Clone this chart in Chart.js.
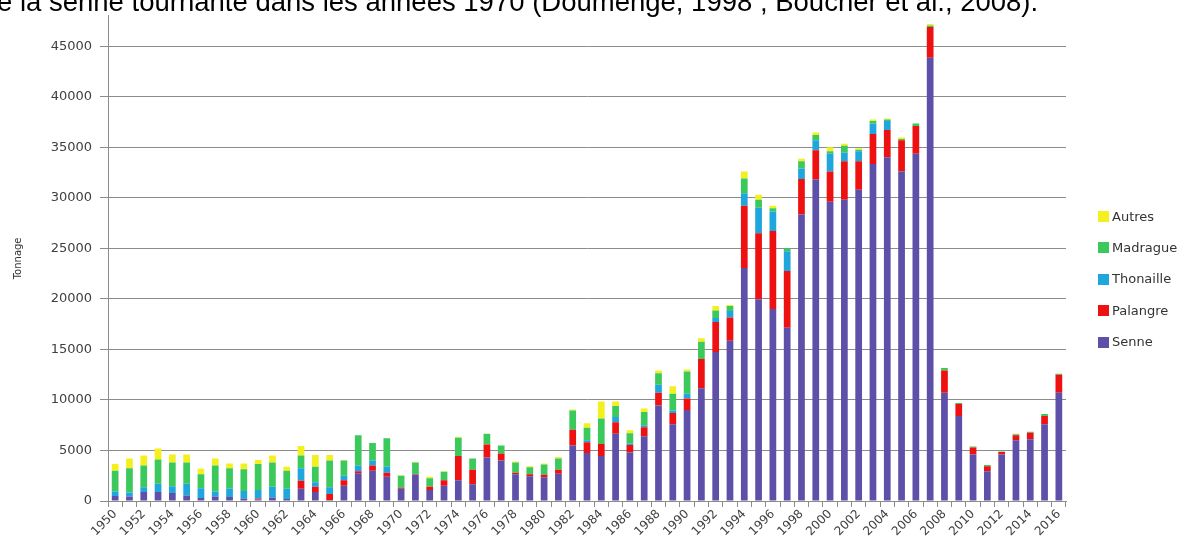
<!DOCTYPE html>
<html><head><meta charset="utf-8">
<script src="https://cdn.jsdelivr.net/npm/chart.js@4.4.1/dist/chart.umd.min.js"></script>
<style>
html,body{margin:0;padding:0;background:#fff;overflow:hidden}
#wrap{position:relative;width:1184px;height:550px;overflow:hidden}
#c{position:absolute;left:0;top:0}
#cap{position:absolute;left:-3px;top:-13.5px;font-family:"Liberation Sans",Arial,sans-serif;font-size:27.5px;line-height:30px;color:#000;white-space:nowrap}
.li{position:absolute;left:1098px;display:flex;align-items:center;font-family:"DejaVu Sans",sans-serif;font-size:13px;line-height:16px;color:#333;white-space:nowrap}
.sw{width:11px;height:11px;margin-right:3px;flex:none}
</style></head>
<body>
<div id="wrap">
<canvas id="c" width="1184" height="550"></canvas>
<div id="cap">e la senne tournante dans les années 1970 (Doumenge, 1998 ; Boucher et al., 2008).</div>
</div>
<script>
const years = ['1950','1951','1952','1953','1954','1955','1956','1957','1958','1959',
 '1960','1961','1962','1963','1964','1965','1966','1967','1968','1969',
 '1970','1971','1972','1973','1974','1975','1976','1977','1978','1979',
 '1980','1981','1982','1983','1984','1985','1986','1987','1988','1989',
 '1990','1991','1992','1993','1994','1995','1996','1997','1998','1999',
 '2000','2001','2002','2003','2004','2005','2006','2007','2008','2009',
 '2010','2011','2012','2013','2014','2015','2016'];
const senne = [500,450,900,900,800,550,300,450,400,250,
 150,350,200,1200,900,100,1500,2750,3000,2400,
 1200,2600,1100,1500,2050,1650,4300,4000,2650,2450,
 2350,2700,5500,4750,4450,6650,4800,6400,9450,7600,
 9000,11150,14750,15850,23050,19950,19000,17150,28350,31800,
 29600,29800,30800,33350,34000,32600,34350,43850,10700,8400,
 4600,2950,4600,6000,6100,7600,10700];
const palangre = [0,0,0,0,0,0,0,0,0,0,
 100,0,0,800,500,600,550,200,500,400,
 100,50,300,550,2400,1450,1300,700,150,200,
 250,400,1550,1050,1200,1150,750,900,1250,1100,
 1150,2900,2950,2300,6150,6550,7700,5600,3500,2900,
 3000,3800,2800,2950,2700,3100,2750,3050,2200,1200,
 700,500,250,500,650,800,1800];
const thonaille = [450,400,450,800,650,1150,950,500,800,750,
 850,1050,1000,1250,450,650,450,550,500,600,
 0,0,0,0,0,0,0,0,0,0,
 0,0,0,200,0,500,150,200,800,250,
 450,0,400,650,1250,2500,1950,1950,1050,1000,
 1750,850,1000,1050,900,0,0,0,0,0,
 0,0,0,0,0,0,0];
const madrague = [2050,2400,2150,2400,2350,2100,1400,2550,2050,2150,
 2550,2400,1800,1250,1550,2650,1500,3000,1750,2800,
 1200,1150,850,850,1800,1100,1050,800,1000,700,
 1000,1100,1900,1250,2500,1100,1000,1300,1150,1650,
 2200,1700,750,500,1450,800,300,300,700,500,
 250,700,150,250,150,100,250,150,250,100,
 100,100,50,100,100,200,100];
const autres = [650,950,1000,1100,800,800,550,700,450,550,
 400,700,400,950,1150,550,50,0,0,0,
 50,50,150,50,100,0,0,0,100,100,
 100,150,100,450,1700,450,300,350,250,750,
 200,350,450,100,700,500,250,0,250,250,
 400,200,150,150,100,150,0,150,0,0,
 0,0,0,50,0,0,0];
const yTicks = [0,5000,10000,15000,20000,25000,30000,35000,40000,45000];
const seriesNames = ['Senne','Palangre','Thonaille','Madrague','Autres'];
const seriesColors = ['#5e4fa9','#ee1111','#1ea6dd','#3cc95b','#f4ef1e'];
const seriesData = [senne,palangre,thonaille,madrague,autres];

const datasets = seriesNames.map((n,i)=>({
  label:n, data:seriesData[i], backgroundColor:seriesColors[i],
  borderWidth:0, barPercentage:0.47, categoryPercentage:1
}));

new Chart(document.getElementById('c'),{
  type:'bar',
  data:{labels:years,datasets},
  options:{
    responsive:false, animation:false,
    layout:{padding:{top:12,right:118,left:0,bottom:0}},
    plugins:{legend:{display:false},tooltip:{enabled:false}},
    scales:{
      x:{stacked:true,
        grid:{display:true,drawOnChartArea:false,drawTicks:true,tickLength:6,offset:true,color:'#8c8c8c'},
        border:{display:true,color:'#8c8c8c'},
        ticks:{autoSkip:false,maxRotation:45,minRotation:45,padding:0,
          font:{family:'DejaVu Sans',size:12},color:'#404040',
          callback:(v,i)=> i%2===0 ? years[i] : ''},
        afterFit:s=>{s.height=49;}
      },
      y:{stacked:true,min:0,max:48000,
        afterBuildTicks:s=>{s.ticks=yTicks.map(v=>({value:v}));},
        grid:{color:'#8c8c8c',tickLength:8},
        border:{color:'#8c8c8c'},
        ticks:{font:{family:'DejaVu Sans',size:13},color:'#404040',padding:8,
          callback:v=>String(v)},
        title:{display:true,text:'Tonnage',font:{family:'DejaVu Sans',size:10},color:'#333',padding:{top:12,bottom:0}},
        afterFit:s=>{s.width=108;}
      }
    }
  }
});

const wrap=document.getElementById('wrap');
for(let k=seriesNames.length-1, j=0;k>=0;k--,j++){
  const d=document.createElement('div');
  d.className='li';
  d.style.top=(216.5+j*31.4-8)+'px';
  const sw=document.createElement('span');sw.className='sw';sw.style.background=seriesColors[k];
  const t=document.createElement('span');t.textContent=seriesNames[k];
  d.appendChild(sw);d.appendChild(t);wrap.appendChild(d);
}
</script>
</body></html>
